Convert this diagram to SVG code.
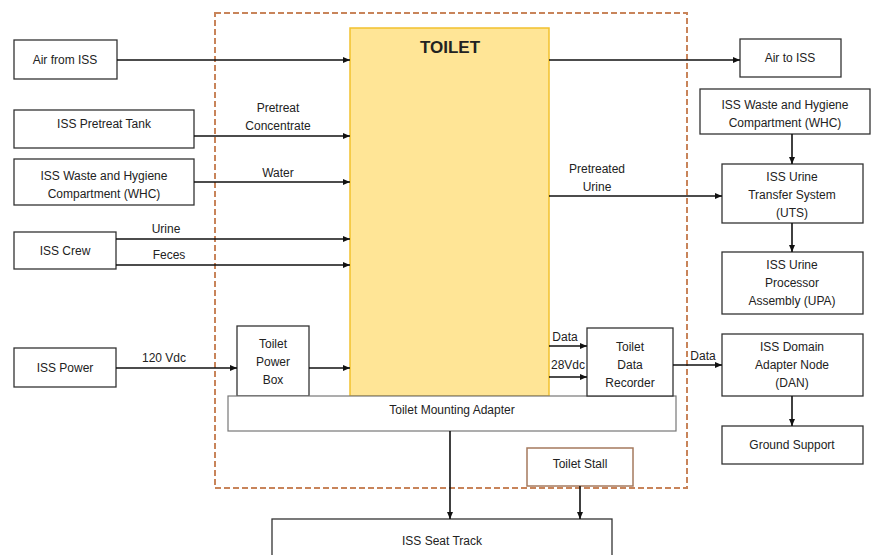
<svg xmlns="http://www.w3.org/2000/svg" width="871" height="555" viewBox="0 0 871 555">
<defs>
<marker id="ah" markerWidth="8" markerHeight="8" refX="7" refY="4" orient="auto" markerUnits="userSpaceOnUse">
<path d="M0,1 L7,4 L0,7 Z" fill="#111"/>
</marker>
<style>
.box{fill:#fff;stroke:#333;stroke-width:1.3}
.gbox{fill:#fff;stroke:#777;stroke-width:1.2}
.t{font-family:"Liberation Sans",Arial,sans-serif;font-size:12px;fill:#222;text-anchor:middle;dominant-baseline:central}
.c{stroke:#111;stroke-width:1.6;fill:none;marker-end:url(#ah)}
</style>
</defs>
<rect width="871" height="555" fill="#fff"/>
<rect id="boundary" x="215" y="13" width="472" height="475" fill="none" stroke="#C8845A" stroke-width="2" stroke-dasharray="6,3"/>

<g id="toilet">
<rect x="350" y="28" width="199" height="368" fill="#FFE596" stroke="#F2C12E" stroke-width="1.5"/>
<text class="t" x="450" y="47" style="font-weight:bold;font-size:17px">TOILET</text>
</g>
<g id="air-from-iss"><rect class="box" x="14" y="40" width="103" height="39"/><text class="t" x="65" y="60">Air from ISS</text></g>
<g id="pretreat-tank"><rect class="box" x="14" y="110" width="180" height="38"/><text class="t" x="104" y="124">ISS Pretreat Tank</text></g>
<g id="whc-left"><rect class="box" x="14" y="159" width="180" height="46"/><text class="t" x="104" y="176">ISS Waste and Hygiene</text><text class="t" x="104" y="194">Compartment (WHC)</text></g>
<g id="crew"><rect class="box" x="14" y="232" width="102" height="37"/><text class="t" x="65" y="251">ISS Crew</text></g>
<g id="power"><rect class="box" x="14" y="348" width="102" height="39"/><text class="t" x="65" y="368">ISS Power</text></g>
<g id="power-box"><rect class="box" x="237" y="326" width="72" height="70"/><text class="t" x="273" y="344">Toilet</text><text class="t" x="273" y="362">Power</text><text class="t" x="273" y="380">Box</text></g>
<g id="mounting-adapter"><rect class="gbox" x="228" y="396" width="448" height="35"/><text class="t" x="452" y="410">Toilet Mounting Adapter</text></g>
<g id="data-recorder"><rect class="box" x="587" y="328" width="86" height="68"/><text class="t" x="630" y="347">Toilet</text><text class="t" x="630" y="365">Data</text><text class="t" x="630" y="383">Recorder</text></g>
<g id="toilet-stall"><rect x="527" y="448" width="106" height="38" fill="#fff" stroke="#A57A5E" stroke-width="1.5"/><text class="t" x="580" y="464">Toilet Stall</text></g>
<g id="seat-track"><rect class="box" x="272" y="519" width="340" height="45"/><text class="t" x="442" y="541">ISS Seat Track</text></g>
<g id="air-to-iss"><rect class="box" x="740" y="39" width="101" height="38"/><text class="t" x="790" y="58">Air to ISS</text></g>
<g id="whc-right"><rect class="box" x="700" y="89" width="170" height="45"/><text class="t" x="785" y="105">ISS Waste and Hygiene</text><text class="t" x="785" y="123">Compartment (WHC)</text></g>
<g id="uts"><rect class="box" x="722" y="164" width="141" height="59"/><text class="t" x="792" y="177">ISS Urine</text><text class="t" x="792" y="195">Transfer System</text><text class="t" x="792" y="213">(UTS)</text></g>
<g id="upa"><rect class="box" x="722" y="252" width="141" height="62"/><text class="t" x="792" y="265">ISS Urine</text><text class="t" x="792" y="283">Processor</text><text class="t" x="792" y="301">Assembly (UPA)</text></g>
<g id="dan"><rect class="box" x="722" y="334" width="141" height="62"/><text class="t" x="792" y="347">ISS Domain</text><text class="t" x="792" y="365">Adapter Node</text><text class="t" x="792" y="383">(DAN)</text></g>
<g id="ground-support"><rect class="box" x="722" y="426" width="141" height="38"/><text class="t" x="792" y="445">Ground Support</text></g>

<g id="connectors">
<path class="c" d="M117,60 H350"/>
<path class="c" d="M194,136 H350"/>
<path class="c" d="M194,182 H350"/>
<path class="c" d="M116,239 H350"/>
<path class="c" d="M116,265 H350"/>
<path class="c" d="M116,368 H237"/>
<path class="c" d="M309,368 H350"/>
<path class="c" d="M549,60 H740"/>
<path class="c" d="M549,196 H722"/>
<path class="c" d="M549,346 H587"/>
<path class="c" d="M549,377 H587"/>
<path class="c" d="M673,365 H722"/>
<path class="c" d="M792,134 V164"/>
<path class="c" d="M792,223 V252"/>
<path class="c" d="M792,396 V426"/>
<path class="c" d="M450,431 V519"/>
<path class="c" d="M580,486 V519"/>
<text class="t" x="278" y="108">Pretreat</text>
<text class="t" x="278" y="126">Concentrate</text>
<text class="t" x="278" y="173">Water</text>
<text class="t" x="166" y="229">Urine</text>
<text class="t" x="169" y="255">Feces</text>
<text class="t" x="164" y="358">120 Vdc</text>
<text class="t" x="597" y="169">Pretreated</text>
<text class="t" x="597" y="187">Urine</text>
<text class="t" x="565" y="337">Data</text>
<text class="t" x="568" y="365">28Vdc</text>
<text class="t" x="703" y="356">Data</text>
</g>
</svg>
